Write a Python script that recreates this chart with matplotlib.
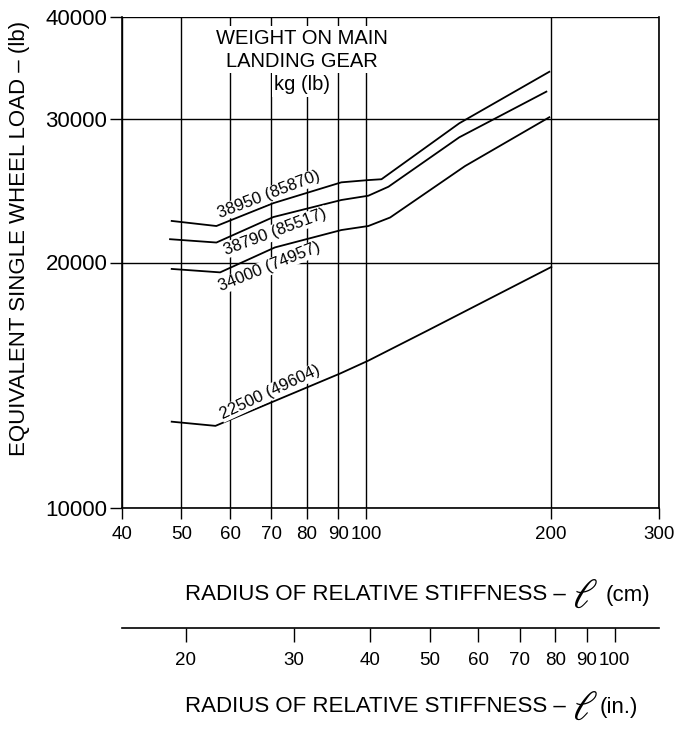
import matplotlib.pyplot as plt

plt.rcParams['font.family'] = ['Liberation Sans', 'DejaVu Sans']

# axis ticks
cm_ticks = [40, 50, 60, 70, 80, 90, 100, 200, 300]
load_ticks = [10000, 20000, 30000, 40000]
in_ticks = [20, 30, 40, 50, 60, 70, 80, 90, 100]

# curves, radius of relative stiffness (cm) vs equivalent single wheel load (lb)
cm_a = [48.2, 57.0, 70.6, 91.1, 100.8, 105.9, 141.8, 198.8]
load_a = [22490, 22170, 23650, 25080, 25240, 25300, 29630, 34270]

cm_b = [47.9, 57.0, 70.6, 91.1, 100.8, 108.7, 141.8, 196.6]
load_b = [21360, 21160, 22740, 23860, 24150, 24770, 28480, 32400]

cm_c = [48.2, 57.8, 71.0, 91.1, 100.8, 109.4, 144.9, 198.8]
load_c = [19640, 19450, 20870, 21920, 22170, 22710, 26260, 30140]

cm_d = [48.2, 56.8, 90.7, 100.8, 126.2, 200.3]
load_d = [12760, 12610, 14620, 15160, 16520, 19750]

curve_labels = ['38950 (85870)', '38790 (85517)', '34000 (74957)', '22500 (49604)']
header = ['WEIGHT ON MAIN', 'LANDING GEAR', 'kg (lb)']

W, H = 674, 734
fig = plt.figure(figsize=(W / 100, H / 100), dpi=100)
ax = fig.add_axes([122 / W, 1 - 508 / H, 537 / W, 491 / H])

ax.set_xscale('log')
ax.set_yscale('log')
ax.set_xlim(40, 300)
ax.set_ylim(10000, 40000)
ax.set_xticks(cm_ticks)
ax.set_xticklabels([str(v) for v in cm_ticks])
ax.set_yticks(load_ticks)
ax.set_yticklabels([str(v) for v in load_ticks])
ax.minorticks_off()
ax.tick_params(axis='x', direction='out', length=8, width=1, pad=5, labelsize=13.5)
ax.tick_params(axis='y', direction='out', length=8.5, width=1, pad=2, labelsize=16)
ax.spines['top'].set_visible(False)
for s in ['left', 'bottom', 'right']:
    ax.spines[s].set_linewidth(1.2)
ax.grid(True, color='black', linewidth=1.0, zorder=1)

for xs, ys in [(cm_a, load_a), (cm_b, load_b), (cm_c, load_c), (cm_d, load_d)]:
    ax.plot(xs, ys, color='black', linewidth=1.3, zorder=3)

lab_pos = [(69.3, 24200, 21), (71.1, 21800, 20.5), (69.6, 19750, 22), (69.8, 13870, 25)]
for txt, (x, y, r) in zip(curve_labels, lab_pos):
    ax.text(x, y, txt, rotation=r, rotation_mode='anchor', ha='center', va='center',
            fontsize=12, zorder=4,
            bbox=dict(fc='white', ec='none', pad=0.5))

# header, one box per line so the grid shows around the short lines
for i, line in enumerate(header):
    ax.text((302 - 122) / 537, 1 - (38 + 23.5 * i - 17) / 491, line,
            transform=ax.transAxes, ha='center', va='center', fontsize=14.5, zorder=4,
            bbox=dict(fc='white', ec='none', pad=1.5))

fig.text(20 / W, 1 - 238 / H, 'EQUIVALENT SINGLE WHEEL LOAD – (lb)', rotation=90,
         ha='center', va='center', fontsize=16)

# inch scale
ax2 = fig.add_axes([122 / W, 1 - 628 / H, 537 / W, 0.0001])
ax2.set_xscale('log')
ax2.set_xlim(40 / 2.54, 300 / 2.54)
ax2.set_xticks(in_ticks)
ax2.set_xticklabels([str(v) for v in in_ticks])
ax2.minorticks_off()
ax2.set_yticks([])
ax2.patch.set_visible(False)
for s in ['left', 'right', 'top']:
    ax2.spines[s].set_visible(False)
ax2.spines['bottom'].set_linewidth(1.2)
ax2.tick_params(axis='x', direction='out', length=10, width=1, pad=7, labelsize=13.5)


def stiff_label(ypx, unit, gap):
    y = 1 - ypx / H
    t1 = fig.text(185 / W, y, 'RADIUS OF RELATIVE STIFFNESS –', fontsize=16,
                  ha='left', va='center')
    fig.canvas.draw()
    bb = t1.get_window_extent()
    t2 = fig.text((bb.x1 + 6) / W, y - 2 / H, r'$\ell$', fontsize=30, math_fontfamily='stix',
                  ha='left', va='center')
    fig.canvas.draw()
    bb2 = t2.get_window_extent()
    fig.text((bb2.x1 + gap) / W, y, unit, fontsize=16, ha='left', va='center')


stiff_label(595, '(cm)', 8)
stiff_label(707, '(in.)', 2)

fig.savefig('out.png', dpi=100)
